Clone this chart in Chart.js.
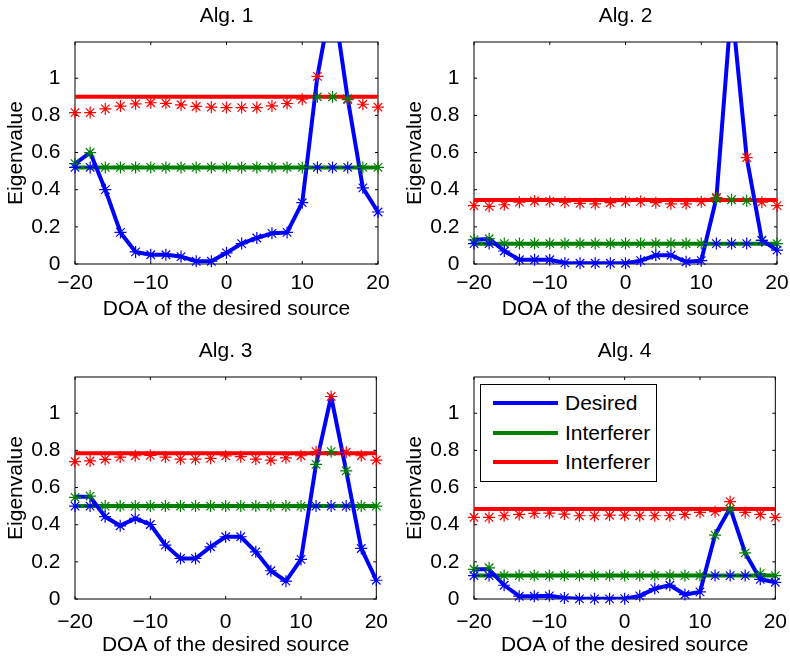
<!DOCTYPE html>
<html>
<head>
<meta charset="utf-8">
<title>Eigenvalue vs DOA</title>
<script src="https://cdn.jsdelivr.net/npm/chart.js@4.4.1/dist/chart.umd.min.js"></script>
<style>
  html, body { margin: 0; padding: 0; background: #fff; }
  body { width: 790px; height: 656px; overflow: hidden; position: relative;
         font-family: "Liberation Sans", Arial, Helvetica, sans-serif; }
  .panel { position: absolute; }
  .legend { position: absolute; left: 480px; top: 384px; width: 177px; height: 98px;
            border: 1px solid #000; box-sizing: border-box; background: #fff; z-index: 2;
            font-size: 21px; color: #000; }
  .legend-row { position: absolute; left: 0; width: 100%; height: 24px; margin-top: 6px; }
  .swatch { position: absolute; left: 12px; top: 10px; width: 65px; height: 4px; }
  .label { position: absolute; left: 84px; top: 0; line-height: 24px; white-space: nowrap; }
</style>
</head>
<body>
<div class="panel" style="left:0px;top:0px"><canvas id="c1" width="393" height="324"></canvas></div>
<div class="panel" style="left:399px;top:0px"><canvas id="c2" width="393" height="324"></canvas></div>
<div class="panel" style="left:0px;top:335px"><canvas id="c3" width="393" height="324"></canvas></div>
<div class="panel" style="left:399px;top:335px"><canvas id="c4" width="393" height="324"></canvas></div>
<div class="legend" id="legend"></div>

<script>
// --- DATA ---
const doa = [-20, -18, -16, -14, -12, -10, -8, -6, -4, -2, 0, 2, 4, 6, 8, 10, 12, 14, 16, 18, 20];
const xTicks = [-20, -10, 0, 10, 20];
const yTicks = [0, 0.2, 0.4, 0.6, 0.8, 1];
const yMax = 1.195;
const seriesNames = ['Desired', 'Interferer', 'Interferer'];

// Alg. 1
const alg1Desired = [0.54, 0.60, 0.40, 0.17, 0.065, 0.05, 0.05, 0.04, 0.015, 0.015, 0.06, 0.11, 0.14, 0.165, 0.17, 0.33, 1.01, 1.45, 0.89, 0.41, 0.28];
const alg1Levels = [0.52, 0.90];
const alg1MarkBlue = [0.52, 0.52, 0.40, 0.17, 0.065, 0.05, 0.05, 0.04, 0.015, 0.015, 0.06, 0.11, 0.14, 0.165, 0.17, 0.33, 0.52, 0.52, 0.52, 0.41, 0.28];
const alg1MarkGreen = [0.54, 0.60, 0.52, 0.52, 0.52, 0.52, 0.52, 0.52, 0.52, 0.52, 0.52, 0.52, 0.52, 0.52, 0.52, 0.52, 0.90, 0.90, 0.89, 0.52, 0.52];
const alg1MarkRed = [0.815, 0.815, 0.835, 0.85, 0.862, 0.868, 0.865, 0.857, 0.848, 0.844, 0.842, 0.842, 0.842, 0.851, 0.864, 0.887, 1.01, 1.45, 0.885, 0.86, 0.844];

// Alg. 2
const alg2Desired = [0.13, 0.135, 0.07, 0.023, 0.023, 0.023, 0.006, 0.004, 0.004, 0.004, 0.004, 0.018, 0.047, 0.047, 0.012, 0.018, 0.355, 1.40, 0.573, 0.127, 0.075];
const alg2Levels = [0.109, 0.344];
const alg2MarkBlue = [0.11, 0.11, 0.07, 0.023, 0.023, 0.023, 0.006, 0.004, 0.004, 0.004, 0.004, 0.018, 0.047, 0.047, 0.012, 0.018, 0.11, 0.11, 0.11, 0.127, 0.075];
const alg2MarkGreen = [0.13, 0.136, 0.11, 0.11, 0.11, 0.11, 0.11, 0.11, 0.11, 0.11, 0.11, 0.11, 0.11, 0.11, 0.11, 0.11, 0.352, 0.346, 0.34, 0.127, 0.11];
const alg2MarkRed = [0.314, 0.31, 0.319, 0.333, 0.339, 0.337, 0.333, 0.326, 0.324, 0.33, 0.335, 0.337, 0.33, 0.324, 0.324, 0.335, 0.358, 1.40, 0.573, 0.333, 0.314];

// Alg. 3
const alg3Desired = [0.55, 0.55, 0.443, 0.394, 0.434, 0.401, 0.29, 0.218, 0.218, 0.281, 0.335, 0.335, 0.254, 0.152, 0.096, 0.213, 0.725, 1.09, 0.69, 0.272, 0.101];
const alg3Levels = [0.50, 0.784];
const alg3MarkBlue = [0.50, 0.50, 0.443, 0.394, 0.434, 0.401, 0.29, 0.218, 0.218, 0.281, 0.335, 0.335, 0.254, 0.152, 0.096, 0.213, 0.50, 0.50, 0.50, 0.272, 0.101];
const alg3MarkGreen = [0.547, 0.554, 0.50, 0.50, 0.50, 0.50, 0.50, 0.50, 0.50, 0.50, 0.50, 0.50, 0.50, 0.50, 0.50, 0.50, 0.725, 0.793, 0.69, 0.50, 0.50];
const alg3MarkRed = [0.74, 0.743, 0.752, 0.764, 0.771, 0.773, 0.764, 0.753, 0.753, 0.757, 0.77, 0.766, 0.753, 0.748, 0.76, 0.771, 0.793, 1.09, 0.79, 0.771, 0.748];

// Alg. 4
const alg4Desired = [0.16, 0.16, 0.074, 0.015, 0.015, 0.017, 0.006, 0.001, 0.001, 0.001, 0.002, 0.017, 0.056, 0.074, 0.024, 0.038, 0.344, 0.49, 0.248, 0.106, 0.09];
const alg4Levels = [0.126, 0.484];
const alg4MarkBlue = [0.126, 0.126, 0.074, 0.015, 0.015, 0.017, 0.006, 0.001, 0.001, 0.001, 0.002, 0.017, 0.056, 0.074, 0.024, 0.038, 0.126, 0.126, 0.126, 0.106, 0.09];
const alg4MarkGreen = [0.16, 0.168, 0.126, 0.126, 0.126, 0.126, 0.126, 0.126, 0.126, 0.126, 0.126, 0.126, 0.126, 0.126, 0.126, 0.126, 0.344, 0.484, 0.248, 0.137, 0.126];
const alg4MarkRed = [0.439, 0.439, 0.448, 0.455, 0.461, 0.462, 0.457, 0.448, 0.448, 0.451, 0.451, 0.448, 0.448, 0.448, 0.455, 0.466, 0.47, 0.524, 0.466, 0.455, 0.439];

// --- STYLE ---
const colors = ['#0000ff', '#008000', '#ff0000'];
const fontFamily = '"Liberation Sans", Arial, Helvetica, sans-serif';
// small differences between the two rows of the original figure
const rowStyle = [
    { xTickPad: 1, xTitlePad: 2 },
    { xTickPad: 5, xTitlePad: 1.5 }
];

const panels = [
    { id: 'c1', title: 'Alg. 1', row: 0, line: alg1Desired, levels: alg1Levels, marks: [alg1MarkBlue, alg1MarkGreen, alg1MarkRed] },
    { id: 'c2', title: 'Alg. 2', row: 0, line: alg2Desired, levels: alg2Levels, marks: [alg2MarkBlue, alg2MarkGreen, alg2MarkRed] },
    { id: 'c3', title: 'Alg. 3', row: 1, line: alg3Desired, levels: alg3Levels, marks: [alg3MarkBlue, alg3MarkGreen, alg3MarkRed] },
    { id: 'c4', title: 'Alg. 4', row: 1, line: alg4Desired, levels: alg4Levels, marks: [alg4MarkBlue, alg4MarkGreen, alg4MarkRed] }
];

Chart.defaults.font.family = fontFamily;
Chart.defaults.font.size = 21;
Chart.defaults.color = '#000';

const fmtX = v => (v < 0 ? '\u2212' + Math.abs(v) : String(v));
const points = vals => vals.map((v, i) => ({ x: doa[i], y: v }));
const flat = level => [{ x: doa[0], y: level }, { x: doa[doa.length - 1], y: level }];

// box around the axes with MATLAB style inward ticks
const boxTicks = {
    id: 'boxTicks',
    beforeDatasetsDraw(chart) {
        const { ctx, chartArea: a, scales: { x, y } } = chart;
        const len = 3;
        ctx.save();
        ctx.strokeStyle = '#000';
        ctx.lineWidth = 1;
        ctx.strokeRect(a.left, a.top, a.right - a.left, a.bottom - a.top);
        ctx.beginPath();
        xTicks.forEach(v => {
            const px = x.getPixelForValue(v);
            ctx.moveTo(px, a.bottom); ctx.lineTo(px, a.bottom - len);
            ctx.moveTo(px, a.top); ctx.lineTo(px, a.top + len);
        });
        yTicks.forEach(v => {
            const py = y.getPixelForValue(v);
            ctx.moveTo(a.left, py); ctx.lineTo(a.left + len, py);
            ctx.moveTo(a.right, py); ctx.lineTo(a.right - len, py);
        });
        ctx.stroke();
        ctx.restore();
    }
};

function makeChart(p) {
    const rs = rowStyle[p.row];
    const datasets = [
        { label: seriesNames[0], data: points(p.line), borderColor: colors[0], borderWidth: 4, pointRadius: 0, order: 1 },
        { label: seriesNames[1], data: flat(p.levels[0]), borderColor: colors[1], borderWidth: 4, pointRadius: 0, order: 2 },
        { label: seriesNames[2], data: flat(p.levels[1]), borderColor: colors[2], borderWidth: 4, pointRadius: 0, order: 2 }
    ];
    p.marks.forEach((vals, i) => {
        datasets.push({
            label: seriesNames[i] + ' *',
            data: points(vals),
            showLine: false,
            pointStyle: 'star',
            pointRadius: 6,
            pointBorderWidth: 1.2,
            pointBorderColor: colors[i],
            borderColor: colors[i],
            clip: 7,
            order: 0
        });
    });

    return new Chart(document.getElementById(p.id), {
        type: 'line',
        data: { datasets },
        options: {
            responsive: false,
            animation: false,
            events: [],
            layout: { padding: { left: 0, right: 15, top: 0, bottom: 0 } },
            elements: { line: { tension: 0, borderJoinStyle: 'round' } },
            plugins: { legend: { display: false }, tooltip: { enabled: false }, title: { display: false } },
            scales: {
                x: {
                    type: 'linear', position: 'bottom', min: -20, max: 20,
                    grid: { display: false }, border: { display: false },
                    afterBuildTicks: s => { s.ticks = xTicks.map(v => ({ value: v })); },
                    afterFit: s => { s.height = 60; },
                    ticks: { padding: rs.xTickPad, maxRotation: 0, autoSkip: false,
                             font: { size: 21, lineHeight: 1 }, callback: v => fmtX(v) },
                    title: { display: true, text: 'DOA of the desired source',
                             font: { size: 21, lineHeight: 1.2 }, padding: { top: 0, bottom: rs.xTitlePad } }
                },
                xTop: {
                    type: 'linear', position: 'top', min: -20, max: 20,
                    grid: { display: false }, border: { display: false },
                    ticks: { display: false },
                    afterFit: s => { s.height = 42; },
                    title: { display: true, text: p.title,
                             font: { size: 21, lineHeight: 1.2 }, padding: { top: 3.4, bottom: 0 } }
                },
                y: {
                    type: 'linear', position: 'left', min: 0, max: yMax,
                    grid: { display: false }, border: { display: false },
                    afterBuildTicks: s => { s.ticks = yTicks.map(v => ({ value: v })); },
                    afterFit: s => { s.width = 75; },
                    ticks: { padding: 6.5, font: { size: 21, lineHeight: 1 }, callback: v => String(v) },
                    title: { display: true, text: 'Eigenvalue',
                             font: { size: 21, lineHeight: 1.2 }, padding: { top: 4.1, bottom: 0 } }
                }
            }
        },
        plugins: [boxTicks]
    });
}

const charts = panels.map(makeChart);

// legend of Alg. 4 (inside the axes, upper left)
const legendBox = document.getElementById('legend');
seriesNames.forEach((name, i) => {
    const row = document.createElement('div');
    row.className = 'legend-row';
    row.style.top = (i * 29.5) + 'px';
    row.innerHTML = `<span class="swatch" style="background:${colors[i]}"></span><span class="label">${name}</span>`;
    legendBox.appendChild(row);
});
</script>
</body>
</html>
